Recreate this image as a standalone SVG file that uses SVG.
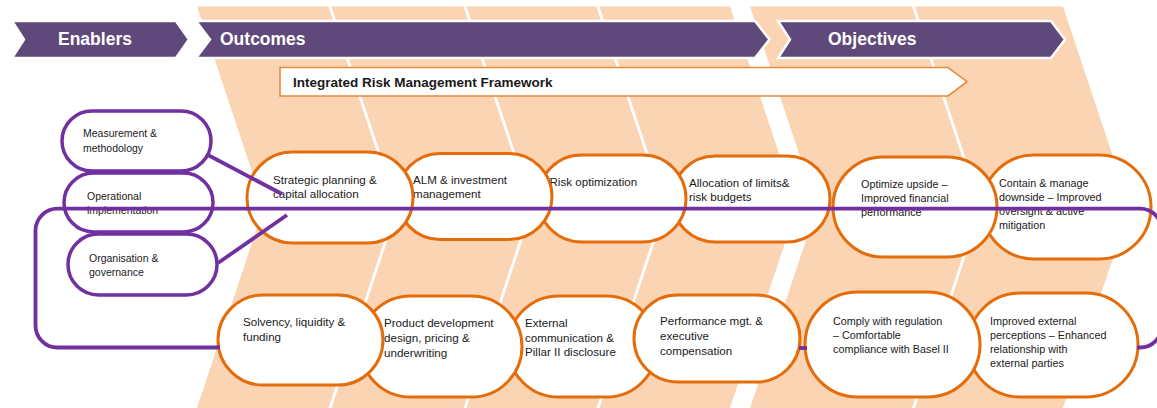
<svg xmlns="http://www.w3.org/2000/svg" width="1157" height="408" viewBox="0 0 1157 408">
<style>
.band{fill:#FBD4B4}
.banner{fill:#5F497A;stroke:#fff;stroke-width:2.5}
.btxt{font-family:"Liberation Sans",Arial,sans-serif;font-weight:bold;font-size:17.5px;fill:#fff}
.en{fill:#fff;stroke:#7030A0;stroke-width:3.5}
.oc{fill:#fff;stroke:#E46C0A;stroke-width:3}
.t{font-family:"Liberation Sans",Arial,sans-serif;fill:#1a1a1a}
.te{font-size:10.5px}
.to{font-size:11.6px}
.tb{font-size:10.8px}
.conn{fill:none;stroke:#7030A0;stroke-width:3.8}
</style>
<rect width="1157" height="408" fill="#fff"/>
<g id="background">
<polygon class="band" points="197,6.5 328.5,6.5 395.4,207.25 328.5,408 197,408 263.9,207.25"/>
<polygon class="band" points="331.5,6.5 463.5,6.5 530.4,207.25 463.5,408 331.5,408 398.4,207.25"/>
<polygon class="band" points="466.5,6.5 596.5,6.5 663.4,207.25 596.5,408 466.5,408 533.4,207.25"/>
<polygon class="band" points="599.5,6.5 730,6.5 796.9,207.25 730,408 599.5,408 666.4,207.25"/>
<polygon class="band" points="750,6.5 912,6.5 978.9,207.25 912,408 750,408 816.9,207.25"/>
<polygon class="band" points="915,6.5 1063,6.5 1129.9,207.25 1063,408 915,408 981.9,207.25"/>
</g>
<g id="banner-enablers">
<polygon class="banner" points="12,21 176,21 189,39.5 176,58 12,58 24,39.5"/>
<text class="btxt" x="58" y="44.5">Enablers</text>
</g>
<g id="banner-outcomes">
<polygon class="banner" points="196,21 755,21 769.5,39.5 755,58 196,58 210,39.5"/>
<text class="btxt" x="220" y="44.5">Outcomes</text>
</g>
<g id="banner-objectives">
<polygon class="banner" points="778,21 1051,21 1065,39.5 1051,58 778,58 790,39.5"/>
<text class="btxt" x="828" y="44.5">Objectives</text>
</g>
<g id="framework">
<polygon points="280,67.5 948,67.5 967,81.7 948,96 280,96" fill="#fff" stroke="#E98A3A" stroke-width="1.6"/>
<text class="t" x="293" y="87.3" font-size="13.5px" font-weight="bold" fill="#111">Integrated Risk Management Framework</text>
</g>
<g id="enabler-measurement">
<rect class="en" x="62" y="111" width="149" height="60" rx="30"/>
<text class="t te" x="83" y="137">Measurement &amp;</text>
<text class="t te" x="83" y="151.5">methodology</text>
</g>
<g id="enabler-operational">
<rect class="en" x="64" y="173" width="149" height="59" rx="29.5"/>
<text class="t te" x="87" y="200">Operational</text>
<text class="t te" x="87" y="214">implementation</text>
</g>
<g id="enabler-organisation">
<rect class="en" x="68" y="234" width="149" height="61" rx="30.5"/>
<text class="t te" x="89" y="262">Organisation &amp;</text>
<text class="t te" x="89" y="276">governance</text>
</g>
<g id="objective-contain">
<rect class="oc" x="982" y="155" width="169" height="104" rx="52"/>
<text class="t tb" x="999" y="187">Contain &amp; manage</text>
<text class="t tb" x="999" y="201">downside – Improved</text>
<text class="t tb" x="999" y="215">oversight &amp; active</text>
<text class="t tb" x="999" y="229">mitigation</text>
</g>
<g id="objective-optimize">
<rect class="oc" x="833" y="157" width="164" height="100" rx="50"/>
<text class="t tb" x="861" y="188">Optimize upside –</text>
<text class="t tb" x="861" y="202">Improved financial</text>
<text class="t tb" x="861" y="216">performance</text>
</g>
<g id="outcome-allocation">
<rect class="oc" x="672" y="156" width="158" height="86" rx="43"/>
<text class="t to" x="689" y="186.5">Allocation of limits&amp;</text>
<text class="t to" x="689" y="201">risk budgets</text>
</g>
<g id="outcome-risk">
<rect class="oc" x="538" y="155" width="148" height="87" rx="43.5"/>
<text class="t to" x="549.5" y="185.7">Risk optimization</text>
</g>
<g id="outcome-alm">
<rect class="oc" x="397" y="153.5" width="155" height="86" rx="43"/>
<text class="t to" x="413" y="184.3">ALM &amp; investment</text>
<text class="t to" x="413" y="198.3">management</text>
</g>
<g id="outcome-strategic">
<rect class="oc" x="247" y="152" width="166" height="91" rx="45.5"/>
<text class="t to" x="273" y="184.3">Strategic planning &amp;</text>
<text class="t to" x="273" y="198.3">capital allocation</text>
</g>
<g id="objective-improved">
<rect class="oc" x="968" y="293" width="170" height="104" rx="52"/>
<text class="t tb" x="990" y="325">Improved external</text>
<text class="t tb" x="990" y="339">perceptions – Enhanced</text>
<text class="t tb" x="990" y="353">relationship with</text>
<text class="t tb" x="990" y="367">external parties</text>
</g>
<g id="objective-comply">
<rect class="oc" x="805" y="292" width="175" height="105" rx="52.5"/>
<text class="t tb" x="833" y="325">Comply with regulation</text>
<text class="t tb" x="833" y="339">– Comfortable</text>
<text class="t tb" x="833" y="353">compliance with Basel II</text>
</g>
<g id="outcome-external">
<rect class="oc" x="508" y="296" width="149" height="101" rx="50.5"/>
<text class="t to" x="525" y="327">External</text>
<text class="t to" x="525" y="341.5">communication &amp;</text>
<text class="t to" x="525" y="356">Pillar II disclosure</text>
</g>
<g id="outcome-performance">
<rect class="oc" x="634" y="295" width="166" height="87" rx="43.5"/>
<text class="t to" x="660" y="325">Performance mgt. &amp;</text>
<text class="t to" x="660" y="340">executive</text>
<text class="t to" x="660" y="354.5">compensation</text>
</g>
<g id="outcome-product">
<rect class="oc" x="360" y="296" width="162" height="101" rx="50.5"/>
<text class="t to" x="384" y="327.3">Product development</text>
<text class="t to" x="384" y="342">design, pricing &amp;</text>
<text class="t to" x="384" y="356.5">underwriting</text>
</g>
<g id="outcome-solvency">
<rect class="oc" x="218" y="295" width="165" height="90" rx="45"/>
<text class="t to" x="243" y="326">Solvency, liquidity &amp;</text>
<text class="t to" x="243" y="340.5">funding</text>
</g>
<g id="connectors">
<path class="conn" d="M 220,347.5 H 57.5 A 22 22 0 0 1 35.5 325.5 V 230.7 A 22 22 0 0 1 57.5 208.7 H 1140 A 22 22 0 0 1 1162 230.7 V 325.5 A 22 22 0 0 1 1140 347.5 H 1137"/>
<path class="conn" d="M 799,348 H 807"/>
<path class="conn" d="M 208,155 L 282,194"/>
<path class="conn" d="M 218,263 L 287,215"/>
</g>
</svg>
